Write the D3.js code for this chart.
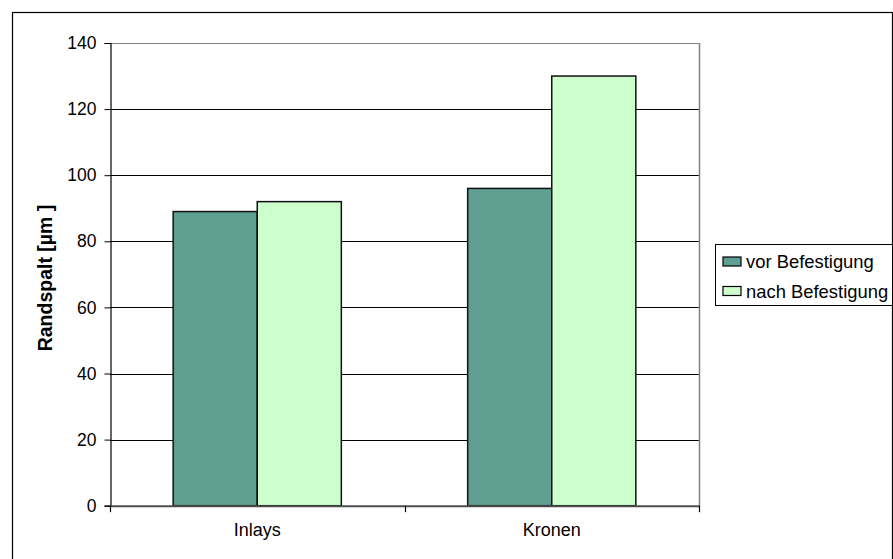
<!DOCTYPE html>
<html><head><meta charset="utf-8">
<script src="https://cdn.jsdelivr.net/npm/d3@7"></script>
<style>body{margin:0;background:#fff}svg{display:block;font-family:"Liberation Sans",Arial,sans-serif}</style>
</head><body>
<script>
const categories = ["Inlays", "Kronen"];
const seriesNames = ["vor Befestigung", "nach Befestigung"];
const vorValues = [89, 96];
const nachValues = [92, 130];
const yTicks = [0, 20, 40, 60, 80, 100, 120, 140];
const colors = ["#5f9f91", "#ccffcc"];
const yTitle = "Randspalt [µm ]";

(function () {
const W = 893, H = 559;
const svg = d3.select("body").append("svg").attr("width", W).attr("height", H);

// outer frame
svg.append("rect").attr("x", 12.5).attr("y", 12.5).attr("width", 880).attr("height", 570)
  .attr("fill", "none").attr("stroke", "#000").attr("stroke-width", 1.2);

const pLeft = 110, pRight = 699, pTop = 43, pBottom = 505.7;
const x = d3.scaleBand().domain(categories).range([pLeft, pRight]).paddingInner(0).paddingOuter(0);
const y = d3.scaleLinear().domain([0, 140]).range([pBottom, pTop]);
const bw = x.bandwidth();
const xs = d3.scaleBand().domain(seriesNames).range([bw * 0.2145, bw * 0.7855]);

// gridlines
svg.append("g").selectAll("line").data(yTicks.filter(t => t > 0 && t < 140)).join("line")
  .attr("x1", pLeft).attr("x2", pRight)
  .attr("y1", d => Math.round(y(d)) + 0.5).attr("y2", d => Math.round(y(d)) + 0.5)
  .attr("stroke", "#000").attr("stroke-width", 1);

// plot border top/right (gray)
svg.append("line").attr("x1", pLeft).attr("x2", pRight).attr("y1", Math.round(y(140)) + 0.5).attr("y2", Math.round(y(140)) + 0.5)
  .attr("stroke", "#808080").attr("stroke-width", 1);
svg.append("line").attr("x1", pRight + 0.5).attr("x2", pRight + 0.5).attr("y1", y(140)).attr("y2", y(0))
  .attr("stroke", "#808080").attr("stroke-width", 1.5);

// bars
const data = categories.map((c, i) => ({ c, vals: [vorValues[i], nachValues[i]] }));
const groups = svg.append("g").selectAll("g").data(data).join("g")
  .attr("transform", d => `translate(${x(d.c)},0)`);
groups.selectAll("rect").data(d => d.vals.map((v, j) => ({ v, s: seriesNames[j], j }))).join("rect")
  .attr("x", d => xs(d.s)).attr("width", xs.bandwidth())
  .attr("y", d => y(d.v)).attr("height", d => y(0) - y(d.v))
  .attr("fill", d => colors[d.j]).attr("stroke", "#111").attr("stroke-width", 1.5);

// y axis
const yAxis = d3.axisLeft(y).tickValues(yTicks).tickSize(6).tickPadding(8);
const gy = svg.append("g").attr("transform", `translate(${pLeft + 0.5},0)`).call(yAxis);
gy.select(".domain").attr("stroke", "#000").attr("stroke-width", 1.2);
gy.selectAll(".tick line").attr("stroke", "#000");
gy.selectAll("text").attr("font-size", 17.5).attr("fill", "#000").attr("font-family", "Liberation Sans, Arial, sans-serif");

// x axis
const xAxis = d3.axisBottom(x).tickSize(0).tickPadding(18);
const gx = svg.append("g").attr("transform", `translate(0,${pBottom})`).call(xAxis);
gx.select(".domain").attr("stroke", "#4d4d4d").attr("stroke-width", 2);
gx.selectAll("text").attr("font-size", 18).attr("fill", "#000").attr("font-family", "Liberation Sans, Arial, sans-serif");
// category boundary ticks
const bounds = [pLeft, ...categories.map(c => x(c) + bw)];
svg.append("g").selectAll("line").data(bounds).join("line")
  .attr("x1", d => Math.round(d) + 0.5).attr("x2", d => Math.round(d) + 0.5)
  .attr("y1", pBottom).attr("y2", pBottom + 6.5).attr("stroke", "#000").attr("stroke-width", 1.2);

// y title
svg.append("text").attr("transform", `translate(52,278) rotate(-90)`)
  .attr("text-anchor", "middle").attr("font-size", 19.5).attr("font-weight", "bold").attr("fill", "#000")
  .text(yTitle);

// legend
const lg = svg.append("g");
lg.append("rect").attr("x", 715.5).attr("y", 244.5).attr("width", 177).attr("height", 61)
  .attr("fill", "#fff").attr("stroke", "#000").attr("stroke-width", 1);
seriesNames.forEach((s, i) => {
  const yy = 257 + i * 29.5;
  lg.append("rect").attr("x", 723).attr("y", yy).attr("width", 18).attr("height", 9)
    .attr("fill", colors[i]).attr("stroke", "#000").attr("stroke-width", 1.2);
  lg.append("text").attr("x", 746).attr("y", yy + 11).attr("font-size", 18.4).attr("fill", "#000").text(s);
});
})();
</script>
</body></html>
